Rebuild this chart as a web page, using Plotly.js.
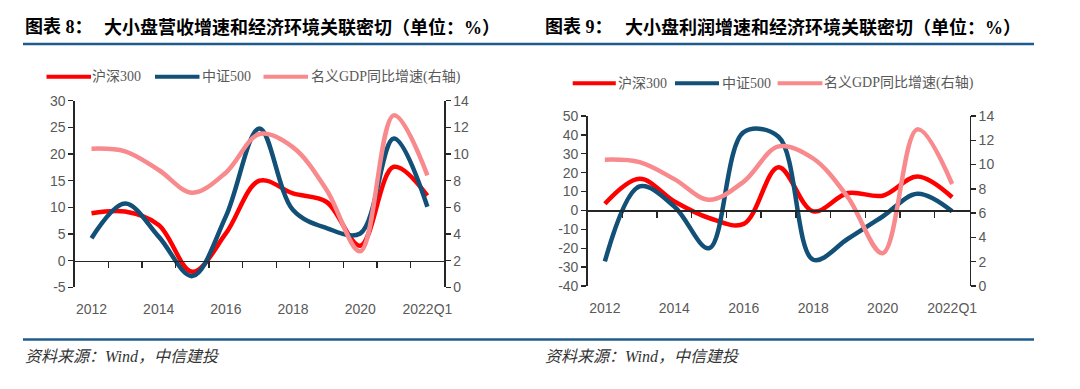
<!DOCTYPE html>
<html>
<head>
<meta charset="utf-8">
<script src="https://cdn.plot.ly/plotly-3.0.1.min.js"></script>
<style>html,body{margin:0;padding:0;background:#fff;}#chart{width:1080px;height:389px;}</style>
</head>
<body>
<div id="chart"></div>
<script>
// ---------- data ----------
const categories = ['2012','2013','2014','2015','2016','2017','2018','2019','2020','2021','2022Q1'];
const hs300Revenue  = [8.9, 9.2, 6.7, -2.1, 5.1, 15.0, 12.6, 11.0, 2.8, 17.6, 12.2];
const csi500Revenue = [4.2, 10.7, 4.5, -2.9, 8.3, 24.8, 9.5, 6.1, 5.1, 22.9, 10.1];
const hs300Profit   = [3.5, 16.8, 4.8, -4.0, -7.1, 22.9, -0.5, 9.2, 7.8, 18.0, 7.0];
const csi500Profit  = [-27.0, 12.7, 2.1, -20.0, 41.5, 39.0, -26.1, -15.0, -3.2, 8.8, -0.5];
const nominalGdp    = [10.4, 10.2, 8.8, 7.1, 8.6, 11.5, 10.5, 7.3, 2.7, 12.9, 8.4];
const seriesNames   = ['沪深300', '中证500', '名义GDP同比增速(右轴)'];
const leftYTicks    = [-5, 0, 5, 10, 15, 20, 25, 30];
const rightYTicks   = [-40, -30, -20, -10, 0, 10, 20, 30, 40, 50];
const gdpTicks      = [0, 2, 4, 6, 8, 10, 12, 14];
const titles        = ['大小盘营收增速和经济环境关联密切（单位：%）', '大小盘利润增速和经济环境关联密切（单位：%）'];
const figLabels     = ['图表 8：', '图表 9：'];
const sourceText    = '资料来源：Wind，中信建投';

// ---------- style ----------
const W = 1080, H = 389;
const RED = '#FF0000', BLUE = '#125078', PINK = '#F88A8D', RULE = '#1F5B8C', AX = '#262626', TXT = '#595959';
const px = x => x / W;
const py = y => 1 - y / H;
const labelCats = categories.filter((c, i) => i % 2 === 0);

const L = {x0: 74.7, x1: 444.2, yTop: 100.7, yBot: 287.3};
const R = {x0: 587.5, x1: 969.5, yTop: 116, yBot: 286};
const yDom = b => [py(b.yBot), py(b.yTop)];
const xDom = b => [px(b.x0), px(b.x1)];
const zeroPos = (b, rng) => { const d = yDom(b); return d[0] + (0 - rng[0]) / (rng[1] - rng[0]) * (d[1] - d[0]); };

const leftRange = [leftYTicks[0], leftYTicks[leftYTicks.length - 1]];
const rightRange = [rightYTicks[0], rightYTicks[rightYTicks.length - 1]];
const gdpRange = [gdpTicks[0], gdpTicks[gdpTicks.length - 1]];

function line(x, y, color, xa, ya, name) {
  return {x: x, y: y, name: name, xaxis: xa, yaxis: ya, type: 'scatter', mode: 'lines',
    line: {color: color, width: 4.5, shape: 'spline', smoothing: 1}, hoverinfo: 'skip', showlegend: false};
}
function dummy(xa, ya) {
  return {x: categories, y: categories.map(() => null), xaxis: xa, yaxis: ya, type: 'scatter', mode: 'lines',
    hoverinfo: 'skip', showlegend: false};
}

const data = [
  line(categories, hs300Revenue, RED, 'x', 'y', seriesNames[0]),
  line(categories, csi500Revenue, BLUE, 'x', 'y', seriesNames[1]),
  line(categories, nominalGdp, PINK, 'x', 'y2', seriesNames[2]),
  line(categories, hs300Profit, RED, 'x2', 'y3', seriesNames[0]),
  line(categories, csi500Profit, BLUE, 'x2', 'y3', seriesNames[1]),
  line(categories, nominalGdp, PINK, 'x2', 'y4', seriesNames[2]),
  dummy('x3', 'y'),
  dummy('x4', 'y3')
];

function labelAxis(b, anchor) {
  return {domain: xDom(b), anchor: anchor, type: 'category', categoryorder: 'array', categoryarray: categories,
    range: [-0.5, categories.length - 0.5], showline: false, showgrid: false, zeroline: false,
    ticks: 'outside', ticklen: 9, tickcolor: 'rgba(0,0,0,0)', tickmode: 'array', tickvals: labelCats, ticktext: labelCats,
    tickfont: {size: 14, color: TXT}, fixedrange: true};
}
function tickAxis(b, over, pos) {
  return {domain: xDom(b), overlaying: over, anchor: 'free', position: pos, type: 'category',
    categoryorder: 'array', categoryarray: categories, range: [-0.5, categories.length - 0.5],
    showline: true, linecolor: AX, linewidth: 1.3, ticks: 'outside', tickson: 'boundaries', ticklen: 6,
    tickcolor: AX, tickwidth: 1.3, showticklabels: false, tickmode: 'linear', tick0: 0, dtick: 1,
    showgrid: false, zeroline: false, fixedrange: true};
}
function valAxis(b, rng, ticks, anchor, side, over) {
  const a = {domain: yDom(b), anchor: anchor, side: side, range: rng, tickmode: 'array', tickvals: ticks,
    ticktext: ticks.map(v => String(v)), showline: true, linecolor: AX, linewidth: 1.3, ticks: 'outside', ticklen: 5,
    tickcolor: AX, tickwidth: 1.3, showgrid: false, zeroline: false, tickfont: {size: 14, color: TXT}, fixedrange: true};
  if (over) a.overlaying = over;
  return a;
}

// legends (manual, to match long thick swatches)
const shapes = [];
const annotations = [];
function legend(items, y) {
  items.forEach((it, i) => {
    shapes.push({type: 'line', xref: 'paper', yref: 'paper', x0: px(it.l0), x1: px(it.l1), y0: py(y), y1: py(y),
      line: {color: [RED, BLUE, PINK][i], width: 4}});
    annotations.push({xref: 'paper', yref: 'paper', x: px(it.t), y: py(y), xanchor: 'left', yanchor: 'middle',
      text: seriesNames[i], showarrow: false, borderpad: 0,
      font: {family: 'Liberation Serif, Noto Sans CJK SC, serif', size: 14, color: TXT}});
  });
}
legend([{l0: 46.5, l1: 91, t: 91}, {l0: 155, l1: 199.5, t: 201}, {l0: 263.5, l1: 308, t: 309.5}], 76.7);
legend([{l0: 572.7, l1: 615.8, t: 616.5}, {l0: 675, l1: 719, t: 720.5}, {l0: 777.6, l1: 822.4, t: 823}], 83.3);

// titles
[[24, 103], [543.5, 624.4]].forEach((p, i) => {
  annotations.push({xref: 'paper', yref: 'paper', x: px(p[0]), y: py(27.5), xanchor: 'left', yanchor: 'middle',
    text: '<b>' + figLabels[i] + '</b>', showarrow: false, borderpad: 0,
    font: {family: 'Liberation Serif, Noto Sans CJK SC, serif', size: 18, color: '#000'}});
  annotations.push({xref: 'paper', yref: 'paper', x: px(p[1]), y: py(27.5), xanchor: 'left', yanchor: 'middle',
    text: '<b>' + titles[i] + '</b>', showarrow: false, borderpad: 0,
    font: {family: 'Liberation Serif, Noto Sans CJK SC, serif', size: 18, color: '#000'}});
});
// sources
[24, 543.5].forEach(x => {
  annotations.push({xref: 'paper', yref: 'paper', x: px(x), y: py(356), xanchor: 'left', yanchor: 'middle',
    text: '<i>' + sourceText + '</i>', showarrow: false, borderpad: 0,
    font: {family: 'Liberation Serif, Noto Sans CJK SC, serif', size: 16, color: '#333'}});
});
// rules
[44, 339.5].forEach(y => {
  shapes.push({type: 'line', xref: 'paper', yref: 'paper', x0: px(23), x1: px(1034), y0: py(y), y1: py(y),
    line: {color: RULE, width: 2.5}});
});

const layout = {
  width: W, height: H, margin: {l: 0, r: 0, t: 0, b: 0, pad: 0},
  paper_bgcolor: '#fff', plot_bgcolor: 'rgba(0,0,0,0)', showlegend: false,
  font: {family: 'Liberation Sans, Arial, sans-serif', size: 14, color: TXT},
  xaxis: labelAxis(L, 'y'),
  xaxis2: labelAxis(R, 'y3'),
  xaxis3: tickAxis(L, 'x', zeroPos(L, leftRange)),
  xaxis4: tickAxis(R, 'x2', zeroPos(R, rightRange)),
  yaxis: valAxis(L, leftRange, leftYTicks, 'x', 'left'),
  yaxis2: valAxis(L, gdpRange, gdpTicks, 'x', 'right', 'y'),
  yaxis3: valAxis(R, rightRange, rightYTicks, 'x2', 'left'),
  yaxis4: valAxis(R, gdpRange, gdpTicks, 'x2', 'right', 'y3'),
  shapes: shapes,
  annotations: annotations
};

Plotly.newPlot('chart', data, layout, {staticPlot: true, displayModeBar: false});
</script>
</body>
</html>
